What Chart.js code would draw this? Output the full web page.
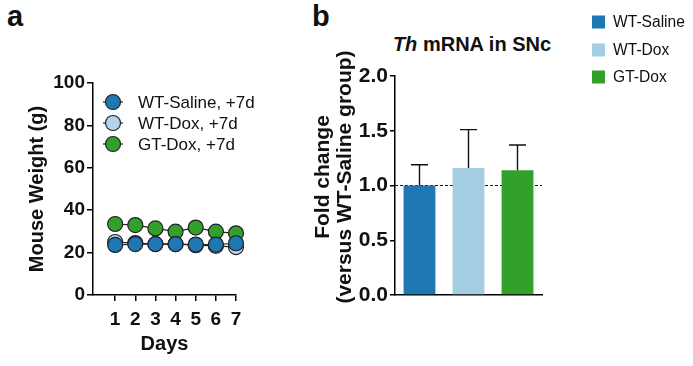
<!DOCTYPE html>
<html><head><meta charset="utf-8">
<script src="https://cdn.jsdelivr.net/npm/chart.js@4"></script>
<style>
html,body{margin:0;padding:0;background:#fff;width:693px;height:366px;overflow:hidden;font-family:'Liberation Sans',Arial,sans-serif;}
canvas{position:absolute;top:0;}
.lbl{position:absolute;font-weight:bold;color:#111;white-space:nowrap;}
</style></head><body>
<div class="lbl" style="left:7px;top:0px;font-size:29px;">a</div>
<div class="lbl" style="left:312px;top:0px;font-size:29px;">b</div>
<div class="lbl" style="left:372px;width:200px;text-align:center;top:33px;font-size:20px;"><i>Th</i> mRNA in SNc</div>
<canvas id="cA" width="260" height="366" style="left:0"></canvas>
<canvas id="cB" width="433" height="366" style="left:260px"></canvas>
<div class="lbl" style="left:183px;top:155px;width:300px;height:44px;line-height:22px;font-size:21px;text-align:center;transform:rotate(-90deg);z-index:2;">Fold change<br>(versus WT-Saline group)</div>
<script>
const FONT = "'Liberation Sans', Arial, sans-serif";
// ---- Panel a data ----
const days = [1, 2, 3, 4, 5, 6, 7];
const wtSaline = [23.6, 24.0, 24.0, 24.0, 23.8, 23.8, 24.4];
const wtDox = [25.0, 24.5, 24.0, 24.0, 23.5, 23.2, 22.6];
const gtDox = [33.5, 33.0, 31.4, 29.9, 31.8, 29.9, 29.1];
const weightLegend = ['WT-Saline, +7d', 'WT-Dox, +7d', 'GT-Dox, +7d'];
// ---- Panel b data ----
const groups = ['WT-Saline', 'WT-Dox', 'GT-Dox'];
const foldMean = [1.0, 1.16, 1.14];
const foldErr = [0.19, 0.35, 0.23];

const cDark = '#1f78b4', cLight = '#b3d4ec', cGreen = '#33a02c';
const cLightBar = '#a6cee3';

const pts = arr => days.map((d, i) => ({x: d, y: arr[i]}));

const legendA = {
  id: 'legendA',
  afterDraw(chart) {
    const ctx = chart.ctx;
    const cols = [cDark, cLight, cGreen];
    const ys = [102, 123, 144];
    ctx.save();
    weightLegend.forEach((t, i) => {
      const y = ys[i];
      ctx.strokeStyle = '#222'; ctx.lineWidth = 1.2;
      ctx.beginPath(); ctx.moveTo(103, y); ctx.lineTo(123, y); ctx.stroke();
      ctx.beginPath(); ctx.arc(113, y, 7.5, 0, Math.PI * 2);
      ctx.fillStyle = cols[i]; ctx.fill(); ctx.stroke();
      ctx.fillStyle = '#111'; ctx.font = '17px ' + FONT; ctx.textBaseline = 'middle';
      ctx.fillText(t, 138, y + 1);
    });
    ctx.restore();
  }
};

const ds = (label, arr, col, order) => ({
  label, data: pts(arr), order,
  borderColor: '#222', borderWidth: 1.2,
  pointBackgroundColor: col, pointBorderColor: '#222', pointBorderWidth: 1.2,
  pointRadius: 7.5, pointHoverRadius: 7.5, showLine: true, clip: false
});

new Chart(document.getElementById('cA'), {
  type: 'scatter',
  data: { datasets: [
    ds(weightLegend[0], wtSaline, cDark, 0),
    ds(weightLegend[1], wtDox, cLight, 1),
    ds(weightLegend[2], gtDox, cGreen, 2)
  ]},
  options: {
    responsive: false, animation: false,
    layout: { padding: { top: 83, right: 24, left: 0, bottom: 0 } },
    plugins: { legend: { display: false }, tooltip: { enabled: false } },
    scales: {
      x: {
        type: 'linear', min: -0.1, max: 7,
        afterBuildTicks: s => { s.ticks = days.map(d => ({value: d})); },
        afterFit: s => { s.height = 71; },
        grid: { display: true, drawOnChartArea: false, drawTicks: true, tickLength: 6, color: '#000', lineWidth: 1.5 },
        border: { display: true, color: '#000', width: 1.5 },
        ticks: { color: '#111', font: { family: FONT, size: 19, weight: 'bold' }, padding: 7, maxRotation: 0, autoSkip: false },
        title: { display: true, text: 'Days', color: '#111', font: { family: FONT, size: 20, weight: 'bold' }, padding: { top: 0, bottom: 10 } }
      },
      y: {
        min: 0, max: 100,
        ticks: { stepSize: 20, color: '#111', font: { family: FONT, size: 19, weight: 'bold' }, padding: 2 },
        afterFit: s => { s.width = 93; },
        grid: { display: true, drawOnChartArea: false, drawTicks: true, tickLength: 6, color: '#000', lineWidth: 1.5 },
        border: { display: true, color: '#000', width: 1.5 },
        title: { display: true, text: 'Mouse Weight (g)', color: '#111', font: { family: FONT, size: 20, weight: 'bold' }, padding: { top: 25, bottom: 0 } }
      }
    }
  },
  plugins: [legendA]
});

const barExtras = {
  id: 'barExtras',
  beforeDatasetsDraw(chart) {
    const {ctx, chartArea, scales: {y}} = chart;
    const yy = y.getPixelForValue(1.0);
    ctx.save();
    ctx.strokeStyle = '#111'; ctx.lineWidth = 1; ctx.setLineDash([3, 2]);
    ctx.beginPath(); ctx.moveTo(chartArea.left, yy); ctx.lineTo(chartArea.right, yy); ctx.stroke();
    ctx.restore();
  },
  afterDatasetsDraw(chart) {
    const {ctx, scales: {y}} = chart;
    const meta = chart.getDatasetMeta(0);
    ctx.save();
    ctx.strokeStyle = '#111'; ctx.lineWidth = 1.4;
    meta.data.forEach((bar, i) => {
      const yb = y.getPixelForValue(foldMean[i]);
      const yt = y.getPixelForValue(foldMean[i] + foldErr[i]);
      ctx.beginPath(); ctx.moveTo(bar.x, yb); ctx.lineTo(bar.x, yt);
      ctx.moveTo(bar.x - 8.5, yt); ctx.lineTo(bar.x + 8.5, yt); ctx.stroke();
    });
    // legend
    const cols = [cDark, cLightBar, cGreen];
    const ys = [22, 50, 77];
    groups.forEach((g, i) => {
      ctx.fillStyle = cols[i];
      ctx.fillRect(332, ys[i] - 6.5, 13, 13);
      ctx.fillStyle = '#111'; ctx.font = '15.6px ' + FONT; ctx.textBaseline = 'middle';
      ctx.fillText(g, 353, ys[i] + 1);
    });
    ctx.restore();
  }
};

new Chart(document.getElementById('cB'), {
  type: 'bar',
  data: { labels: groups, datasets: [{ data: foldMean, backgroundColor: [cDark, cLightBar, cGreen], borderWidth: 0, categoryPercentage: 1, barPercentage: 0.65 }] },
  options: {
    responsive: false, animation: false,
    layout: { padding: { top: 76, right: 151, left: 0, bottom: 0 } },
    plugins: { legend: { display: false }, tooltip: { enabled: false } },
    scales: {
      x: {
        afterFit: s => { s.height = 71; },
        grid: { display: false },
        border: { display: true, color: '#000', width: 1.5 },
        ticks: { display: false }
      },
      y: {
        min: 0, max: 2,
        afterFit: s => { s.width = 135; },
        ticks: { stepSize: 0.5, callback: v => v.toFixed(1), color: '#111', font: { family: FONT, size: 21, weight: 'bold' }, padding: 2 },
        grid: { display: true, drawOnChartArea: false, drawTicks: true, tickLength: 5, color: '#000', lineWidth: 1.5 },
        border: { display: true, color: '#000', width: 1.5 }
      }
    }
  },
  plugins: [barExtras]
});
</script>
</body></html>
